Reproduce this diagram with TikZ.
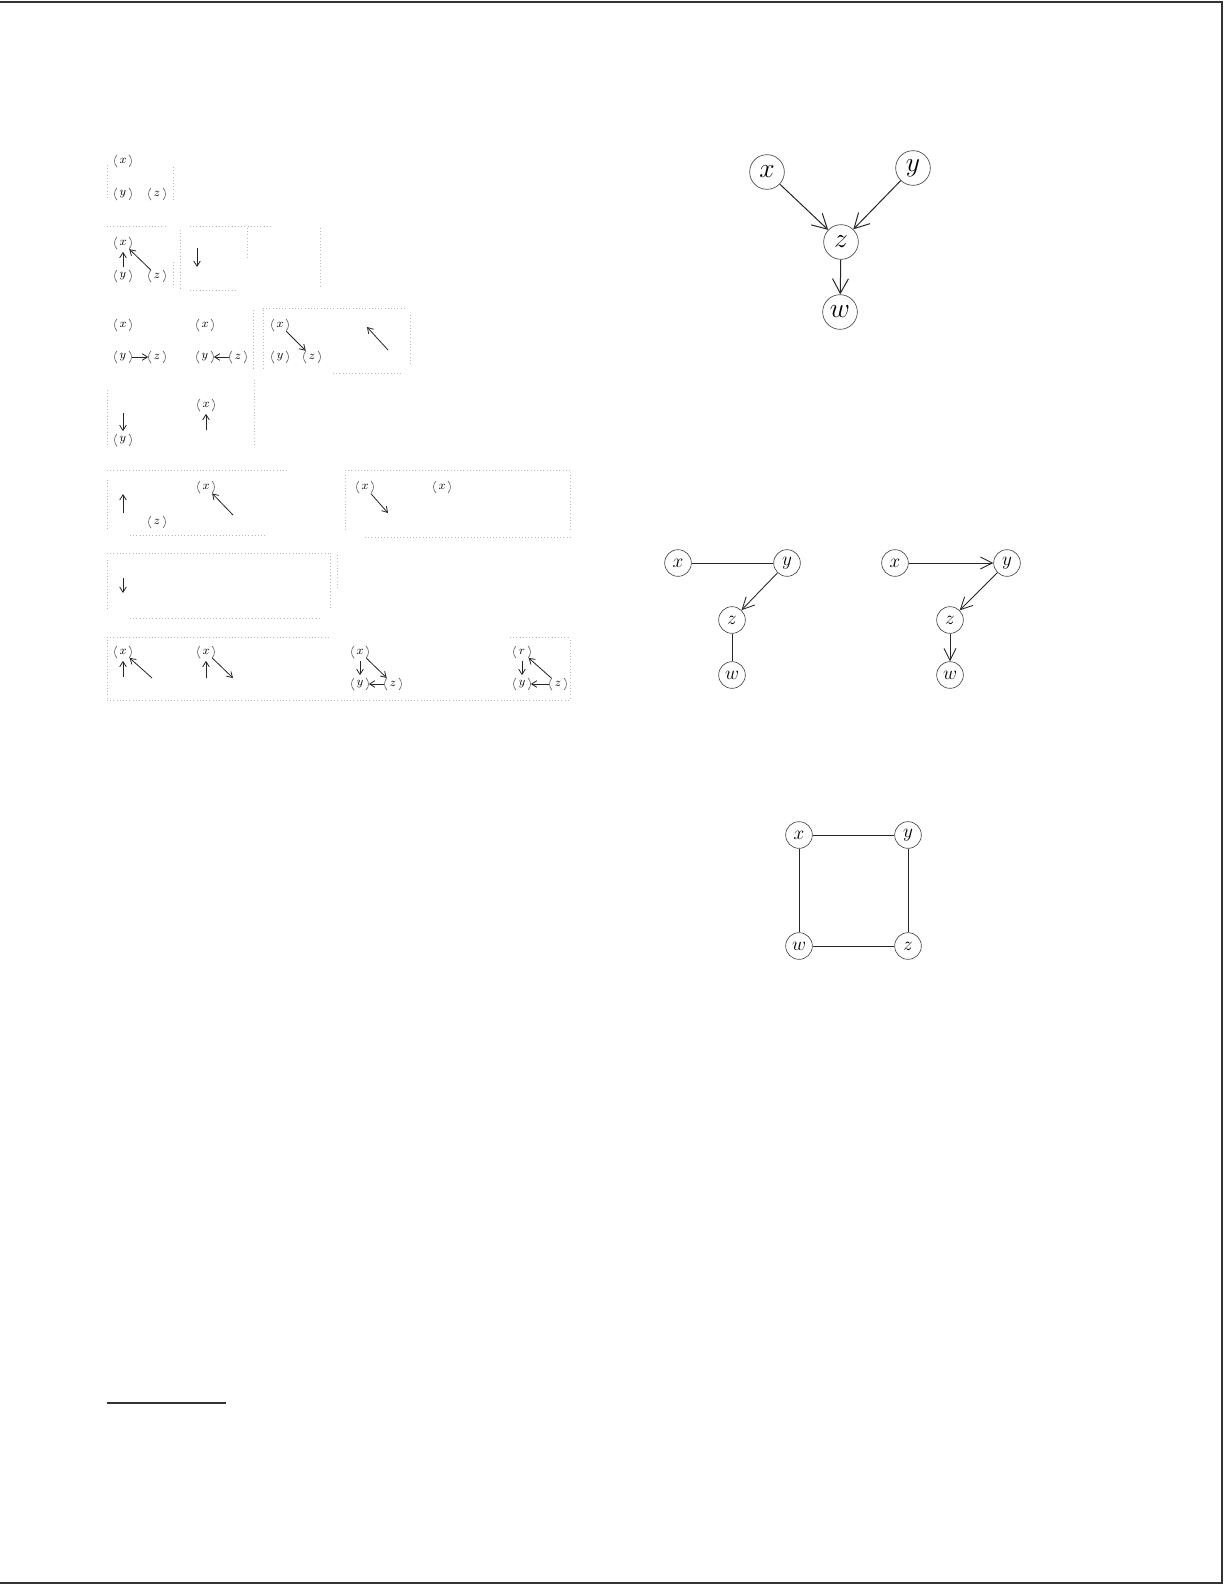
\documentclass[tikz,border=0pt]{standalone}
\usetikzlibrary{arrows.meta}
\begin{document}
\begin{tikzpicture}[x=0.75pt,y=-0.75pt,
  bign/.style={circle,draw=black!70,line width=0.5pt,inner sep=0pt,minimum size=26pt,font=\fontsize{20}{20}\selectfont},
  midn/.style={circle,draw=black!70,line width=0.5pt,inner sep=0pt,minimum size=20pt,font=\fontsize{14}{14}\selectfont},
  sn/.style={circle,draw=black!60,line width=0.5pt,inner sep=0pt,minimum size=12.75pt,
     dash pattern=on 5pt off 10.01pt on 10.01pt off 10.01pt on 5pt off 0.02pt,
     font=\fontsize{9}{9}\selectfont},
  bigarr/.style={draw=black!85,line width=0.75pt,-{Straight Barb[length=11pt,width=12pt]}},
  midarr/.style={draw=black!85,line width=0.65pt,-{Straight Barb[length=9pt,width=9pt]}},
  midline/.style={draw=black!85,line width=0.65pt},
  sarr/.style={draw=black!85,line width=0.6pt,-{Straight Barb[length=4pt,width=5pt]}},
  faint/.style={draw=black!28,dotted,line width=0.4pt},
  frame/.style={draw=black!80,line width=1.3pt}
]
\useasboundingbox (0,0) rectangle (1230,1585);

% page frame
\draw[frame] (0,2) -- (1222,2) -- (1222,1583) -- (0,1583);
% footnote rule
\draw[draw=black!80,line width=1.1pt] (107,1403) -- (226,1403);

% ---------------- right side ----------------
% graph 1
\node[bign] (g1x) at (767,172) {$x$};
\node[bign] (g1y) at (913,168) {$y$};
\node[bign] (g1z) at (841,242) {$z$};
\node[bign] (g1w) at (840,312) {$w$};
\draw[bigarr] (g1x) -- (g1z);
\draw[bigarr] (g1y) -- (g1z);
\draw[bigarr] (g1z) -- (g1w);

% graph 2
\node[midn] (g2x) at (678,563) {$x$};
\node[midn] (g2y) at (787,563) {$y$};
\node[midn] (g2z) at (732,620) {$z$};
\node[midn] (g2w) at (732,675) {$w$};
\draw[midline] (g2x) -- (g2y);
\draw[midarr] (g2y) -- (g2z);
\draw[midline] (g2z) -- (g2w);

% graph 3
\node[midn] (g3x) at (895,563) {$x$};
\node[midn] (g3y) at (1007,563) {$y$};
\node[midn] (g3z) at (950,620) {$z$};
\node[midn] (g3w) at (950,675) {$w$};
\draw[midarr] (g3x) -- (g3y);
\draw[midarr] (g3y) -- (g3z);
\draw[midarr] (g3z) -- (g3w);

% graph 4
\node[midn] (g4x) at (799,835) {$x$};
\node[midn] (g4y) at (908,835) {$y$};
\node[midn] (g4w) at (799,946) {$w$};
\node[midn] (g4z) at (908,946) {$z$};
\draw[midline] (g4x) -- (g4y);
\draw[midline] (g4y) -- (g4z);
\draw[midline] (g4w) -- (g4z);
\draw[midline] (g4x) -- (g4w);

% ---------------- left side (faint) ----------------
% row 1
\node[sn] (a1x) at (123,161) {$x$};
\node[sn] (a1y) at (123,194) {$y$};
\node[sn] (a1z) at (157,194) {$z$};
\draw[faint] (173,167) -- (173,202);
\draw[faint] (107,165) -- (107,200);

% row 2
\node[sn] (a2x) at (123,243) {$x$};
\node[sn] (a2y) at (123,276) {$y$};
\node[sn] (a2z) at (157,276) {$z$};
\draw[sarr] (a2y) -- (a2x);
\draw[sarr] (a2z) -- (a2x);
\coordinate (c2a) at (197,248);
\coordinate (c2b) at (197,267);
\draw[sarr] (c2a) -- (c2b);
\draw[faint] (107,226) -- (165,226);
\draw[faint] (173,262) -- (173,287);
\draw[faint] (190,226) -- (273,226);
\draw[faint] (180,230) -- (180,288);
\draw[faint] (247,228) -- (247,258);
\draw[faint] (190,290) -- (237,290);
\draw[faint] (320,228) -- (320,287);

% row 3
\node[sn] (a3ax) at (123,325) {$x$};
\node[sn] (a3ay) at (123,357) {$y$};
\node[sn] (a3az) at (157,357) {$z$};
\draw[sarr] (a3ay) -- (a3az);
\node[sn] (a3bx) at (205,325) {$x$};
\node[sn] (a3by) at (205,357) {$y$};
\node[sn] (a3bz) at (238,357) {$z$};
\draw[sarr] (a3bz) -- (a3by);
\draw[faint] (253,310) -- (253,370);
\node[sn] (a3cx) at (280,325) {$x$};
\node[sn] (a3cy) at (280,357) {$y$};
\node[sn] (a3cz) at (312,357) {$z$};
\draw[sarr] (a3cx) -- (a3cz);
\coordinate (c3a) at (388,350);
\coordinate (c3b) at (367,327);
\draw[sarr] (c3a) -- (c3b);
\draw[faint] (263,308) -- (405,308);
\draw[faint] (410,315) -- (410,365);
\draw[faint] (333,373) -- (403,373);
\draw[faint] (263,310) -- (263,370);

% row 4
\node[sn] (a4y) at (123,440) {$y$};
\coordinate (c4a) at (123,413);
\draw[sarr] (c4a) -- (a4y);
\node[sn] (a4x) at (206,405) {$x$};
\coordinate (c4b) at (206,430);
\draw[sarr] (c4b) -- (a4x);
\draw[faint] (254,380) -- (254,445);
\draw[faint] (107,390) -- (107,445);

% row 5
\coordinate (c5a) at (123,513);
\coordinate (c5b) at (123,494);
\draw[sarr] (c5a) -- (c5b);
\node[sn] (a5z) at (157,522) {$z$};
\node[sn] (a5x) at (206,487) {$x$};
\coordinate (c5c) at (233,515);
\draw[sarr] (c5c) -- (a5x);
\draw[faint] (107,470) -- (287,470);
\draw[faint] (130,535) -- (265,535);
\draw[faint] (107,480) -- (107,530);
\node[sn] (a5gx) at (365,487) {$x$};
\node[sn] (a5gx2) at (442,487) {$x$};
\coordinate (c5d) at (388,513);
\draw[sarr] (a5gx) -- (c5d);
\draw[faint] (345,470) -- (570,470);
\draw[faint] (345,475) -- (345,530);
\draw[faint] (570,475) -- (570,530);
\draw[faint] (365,537) -- (570,537);

% row 6
\coordinate (c6a) at (123,578);
\coordinate (c6b) at (123,593);
\draw[sarr] (c6a) -- (c6b);
\draw[faint] (107,553) -- (330,553);
\draw[faint] (130,618) -- (320,618);
\draw[faint] (107,560) -- (107,610);
\draw[faint] (330,553) -- (330,610);
\draw[faint] (337,555) -- (337,590);

% row 7
\node[sn] (a7ax) at (123,652) {$x$};
\coordinate (c7a) at (123,677);
\coordinate (c7b) at (152,678);
\draw[sarr] (c7a) -- (a7ax);
\draw[sarr] (c7b) -- (a7ax);
\node[sn] (a7bx) at (206,652) {$x$};
\coordinate (c7c) at (206,678);
\coordinate (c7d) at (233,678);
\draw[sarr] (c7c) -- (a7bx);
\draw[sarr] (a7bx) -- (c7d);
\node[sn] (a7cx) at (360,652) {$x$};
\node[sn] (a7cy) at (360,684) {$y$};
\node[sn] (a7cz) at (393,684) {$z$};
\draw[sarr] (a7cx) -- (a7cy);
\draw[sarr] (a7cx) -- (a7cz);
\draw[sarr] (a7cz) -- (a7cy);
\node[sn] (a7dr) at (522,652) {$r$};
\node[sn] (a7dy) at (522,684) {$y$};
\node[sn] (a7dz) at (558,684) {$z$};
\draw[sarr] (a7dr) -- (a7dy);
\draw[sarr] (a7dz) -- (a7dr);
\draw[sarr] (a7dz) -- (a7dy);
\draw[faint] (107,637) -- (330,637);
\draw[faint] (510,637) -- (570,637);
\draw[faint] (570,640) -- (570,700);
\draw[faint] (107,640) -- (107,700);
\draw[faint] (107,700) -- (570,700);
\end{tikzpicture}
\end{document}
